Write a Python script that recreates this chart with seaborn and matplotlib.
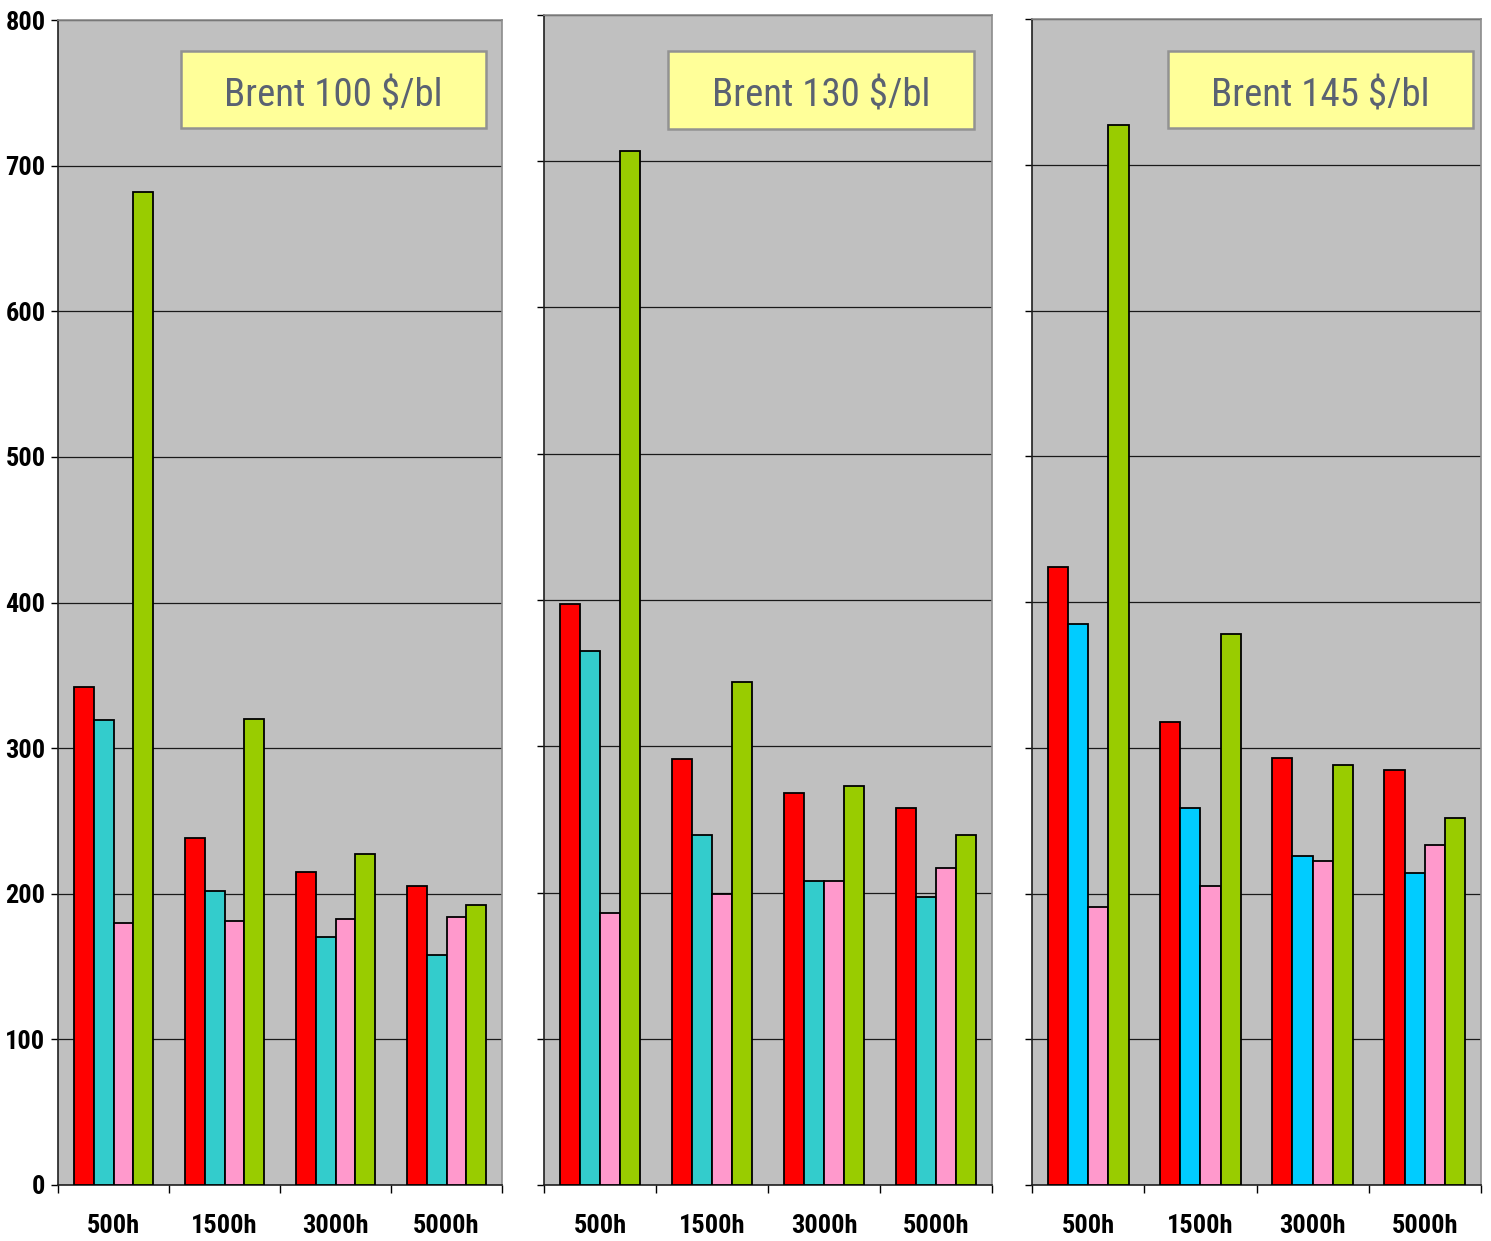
import matplotlib
matplotlib.use("Agg")
import matplotlib.pyplot as plt
from matplotlib import font_manager
from matplotlib.font_manager import FontProperties
from matplotlib.patches import Rectangle
from matplotlib.ticker import FixedLocator, NullFormatter
import seaborn as sns
import pandas as pd

# Operating hours per year (x categories)
hours = ["500h", "1500h", "3000h", "5000h"]
# Oil price scenarios, one panel each
scenarios = ["Brent 100 $/bl", "Brent 130 $/bl", "Brent 145 $/bl"]
# Four technologies, bars within each group
series = ["tech_a", "tech_b", "tech_c", "tech_d"]

# Values per scenario: series -> one value per hour category
brent100 = {
    "tech_a": [342, 238, 215, 205],
    "tech_b": [319, 202, 170, 158],
    "tech_c": [180, 181, 183, 184],
    "tech_d": [682, 320, 227, 192],
}
brent130 = {
    "tech_a": [397, 291, 268, 258],
    "tech_b": [365, 239, 208, 197],
    "tech_c": [186, 199, 208, 217],
    "tech_d": [707, 344, 273, 239],
}
brent145 = {
    "tech_a": [424, 318, 293, 285],
    "tech_b": [385, 259, 226, 214],
    "tech_c": [191, 205, 222, 233],
    "tech_d": [727, 378, 288, 252],
}
panel_values = [brent100, brent130, brent145]

palettes = [
    ["#FF0000", "#33CCCC", "#FF99CC", "#99CC00"],
    ["#FF0000", "#33CCCC", "#FF99CC", "#99CC00"],
    ["#FF0000", "#00CCFF", "#FF99CC", "#99CC00"],
]


def narrow_font(bold):
    """Pick a narrow/condensed sans face if one is installed."""
    prefs = ["Liberation Sans Narrow", "Roboto Condensed", "Open Sans Condensed",
             "DejaVu Sans", "Noto Sans", "Open Sans", "Roboto"]
    cands = []
    for f in font_manager.fontManager.ttflist:
        narrowish = ("Narrow" in f.name or "Condensed" in f.name
                     or f.stretch in ("condensed", "semi-condensed", "extra-condensed"))
        if not narrowish or f.style != "normal":
            continue
        w = f.weight if isinstance(f.weight, int) else (700 if "bold" in str(f.weight) else 400)
        if bold != (w >= 600):
            continue
        rank = prefs.index(f.name) if f.name in prefs else len(prefs)
        cands.append((rank, abs(w - (700 if bold else 400)), f.fname))
    if not cands:
        return None
    cands.sort()
    return cands[0][2]


bold_file = narrow_font(True)
reg_file = narrow_font(False)
if bold_file:
    tick_fp = FontProperties(fname=bold_file, size=19)
else:
    tick_fp = FontProperties(family="Liberation Sans", weight="bold", size=16)
if reg_file:
    title_fp = FontProperties(fname=reg_file, size=28)
else:
    title_fp = FontProperties(family="Liberation Sans", size=22)

W, H = 1491, 1241
fig = plt.figure(figsize=(W / 100, H / 100), dpi=100)

# axes rectangles in pixels: left, right, top, bottom
axes_px = [(58, 502, 20, 1185), (544, 992, 15, 1185), (1032, 1481, 19, 1185)]
# scenario label boxes in pixels: left, right, top, bottom
boxes_px = [(181, 486, 51, 128), (668, 974, 51, 129), (1168, 1473, 51, 128)]

for i, (vals, pal, name) in enumerate(zip(panel_values, palettes, scenarios)):
    l, r, t, b = axes_px[i]
    ax = fig.add_axes([l / W, (H - b) / H, (r - l) / W, (b - t) / H])
    ax.set_facecolor("#C0C0C0")

    df = pd.DataFrame(
        [(h, s, vals[s][k]) for s in series for k, h in enumerate(hours)],
        columns=["hour", "series", "value"],
    )
    sns.barplot(
        data=df, x="hour", y="value", hue="series", order=hours,
        hue_order=series, palette=pal, saturation=1, width=0.72,
        edgecolor="black", linewidth=1.3, legend=False, ax=ax,
        errorbar=None, zorder=3,
    )

    ax.set_ylim(0, 800)
    ax.set_xlim(-0.5, len(hours) - 0.5)
    ax.set_yticks(range(0, 801, 100))
    ax.yaxis.grid(True, color="#1a1a1a", linewidth=0.9, zorder=1)
    ax.set_axisbelow(True)
    ax.set_xlabel("")
    ax.set_ylabel("")

    # category boundaries carry the tick marks, centers carry the labels
    ax.xaxis.set_major_locator(FixedLocator([k - 0.5 for k in range(len(hours) + 1)]))
    ax.xaxis.set_major_formatter(NullFormatter())
    ax.xaxis.set_minor_locator(FixedLocator(list(range(len(hours)))))
    ax.set_xticklabels(hours, minor=True)
    ax.tick_params(axis="x", which="major", direction="out", length=6, width=1, color="black")
    ax.tick_params(axis="x", which="minor", length=0, pad=21)
    for lab in ax.get_xticklabels(minor=True):
        lab.set_fontproperties(tick_fp)

    ax.tick_params(axis="y", direction="out", length=5, width=1, color="black", pad=4)
    if i == 0:
        for lab in ax.get_yticklabels():
            lab.set_fontproperties(tick_fp)
    else:
        ax.set_yticklabels([])

    ax.spines["left"].set_color("#202020")
    ax.spines["bottom"].set_color("#202020")
    ax.spines["top"].set_color("#8c8c8c")
    ax.spines["right"].set_color("#8c8c8c")
    for sp in ax.spines.values():
        sp.set_linewidth(1.2)

    # scenario label box
    bl, br, bt, bb = boxes_px[i]
    x0 = (bl - l) / (r - l)
    x1 = (br - l) / (r - l)
    y0 = (b - bb) / (b - t)
    y1 = (b - bt) / (b - t)
    ax.add_patch(Rectangle((x0, y0), x1 - x0, y1 - y0, transform=ax.transAxes,
                           facecolor="#FFFF99", edgecolor="#929292", linewidth=1.8, zorder=5))
    ax.text((x0 + x1) / 2, (b - 96) / (b - t), name, transform=ax.transAxes,
            ha="center", va="center", fontproperties=title_fp, color="#5A6272", zorder=6)

fig.savefig("out.png", dpi=100)
